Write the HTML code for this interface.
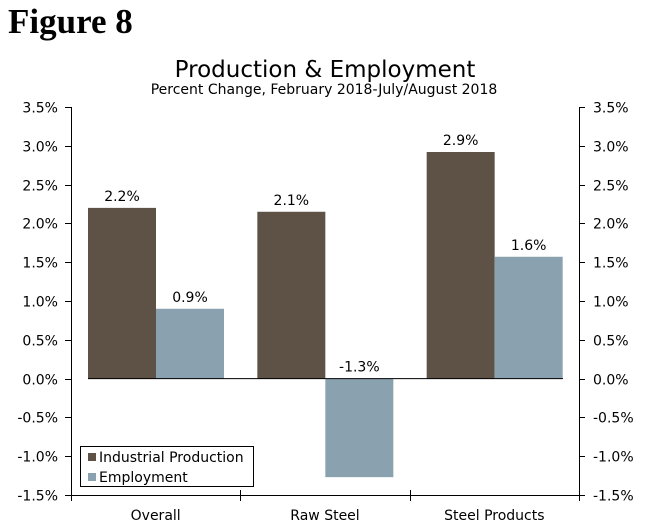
<!DOCTYPE html>
<html><head><meta charset="utf-8"><style>
body{margin:0;background:#fff;width:653px;height:528px;overflow:hidden}
svg{display:block}
text{font-family:"DejaVu Sans","Liberation Sans",sans-serif;font-size:14px;fill:#000}
</style></head><body>
<svg width="653" height="528">
<text x="8" y="33" style="font-family:'Liberation Serif',serif;font-size:35px;font-weight:bold">Figure 8</text>
<text x="325" y="77" text-anchor="middle" style="font-size:23px">Production &amp; Employment</text>
<text x="324" y="94" text-anchor="middle" style="font-size:14px">Percent Change, February 2018-July/August 2018</text>
<g id="plot"></g>
</svg>
<script>
const categories=["Overall","Raw Steel","Steel Products"];
const production=[2.2,2.15,2.92];
const employment=[0.9,-1.27,1.57];
const prodLabels=["2.2%","2.1%","2.9%"];
const empLabels=["0.9%","-1.3%","1.6%"];
const ticks=[3.5,3.0,2.5,2.0,1.5,1.0,0.5,0,-0.5,-1.0,-1.5];
const L=71,R=579,T=107,B=495;
const y=v=>T+(3.5-v)/5*(B-T);
const gw=(R-L)/categories.length;
const g=document.getElementById('plot');
const NS="http://www.w3.org/2000/svg";
function mk(tag,a,txt){const e=document.createElementNS(NS,tag);for(const k in a)e.setAttribute(k,a[k]);if(txt!==undefined)e.textContent=txt;g.appendChild(e);return e;}
categories.forEach((c,i)=>{
 const x0=L+i*gw+17;
 const bw=68;
 let p=production[i],e=employment[i];
 let r=mk('rect',{x:x0,y:Math.min(y(p),y(0)),width:bw,height:Math.abs(y(p)-y(0)),fill:'#5e5246'});
 
 
 r=mk('rect',{x:x0+bw,y:Math.min(y(e),y(0)),width:bw,height:Math.abs(y(e)-y(0)),fill:'#8aa2b0'});
 
 
 let t=mk('text',{x:x0+bw/2,y:y(Math.max(p,0))-7,'text-anchor':'middle'},prodLabels[i]);
 
 
 t=mk('text',{x:x0+bw*1.5,y:y(Math.max(e,0))-7,'text-anchor':'middle'},empLabels[i]);
 
 
 t=mk('text',{x:L+i*gw+gw/2,y:520,'text-anchor':'middle'},c);
 
 
});
mk('line',{x1:L+17,x2:R-16,y1:y(0),y2:y(0),stroke:'#000','stroke-width':1});
ticks.forEach(v=>{
 const yy=Math.round(y(v))+0.5;
 mk('line',{x1:L-6,x2:L,y1:yy,y2:yy,stroke:'#000'});
 mk('line',{x1:R,x2:R+6,y1:yy,y2:yy,stroke:'#000'});
 let t=mk('text',{x:L-13,y:yy+5,'text-anchor':'end'},v.toFixed(1)+'%');
 
 
 t=mk('text',{x:R+14,y:yy+5,'text-anchor':'start'},v.toFixed(1)+'%');
 
 
});
for(let i=0;i<=categories.length;i++){const xx=Math.round(L+i*gw)+0.5;mk('line',{x1:xx,x2:xx,y1:B-5,y2:B+6,stroke:'#000'});}
mk('line',{x1:L+0.5,x2:L+0.5,y1:T,y2:B,stroke:'#000'});
mk('line',{x1:R+0.5,x2:R+0.5,y1:T,y2:B,stroke:'#000'});
mk('line',{x1:L,x2:R,y1:B+0.5,y2:B+0.5,stroke:'#000'});
let lg=mk('rect',{x:80.5,y:446.5,width:173,height:40,fill:'#fff',stroke:'#000'});


mk('rect',{x:88,y:453,width:8,height:8,fill:'#5e5246'});
mk('rect',{x:88,y:473,width:8,height:8,fill:'#8aa2b0'});
let t=mk('text',{x:99,y:462},'Industrial Production');


t=mk('text',{x:99,y:482},'Employment');


</script>
</body></html>
